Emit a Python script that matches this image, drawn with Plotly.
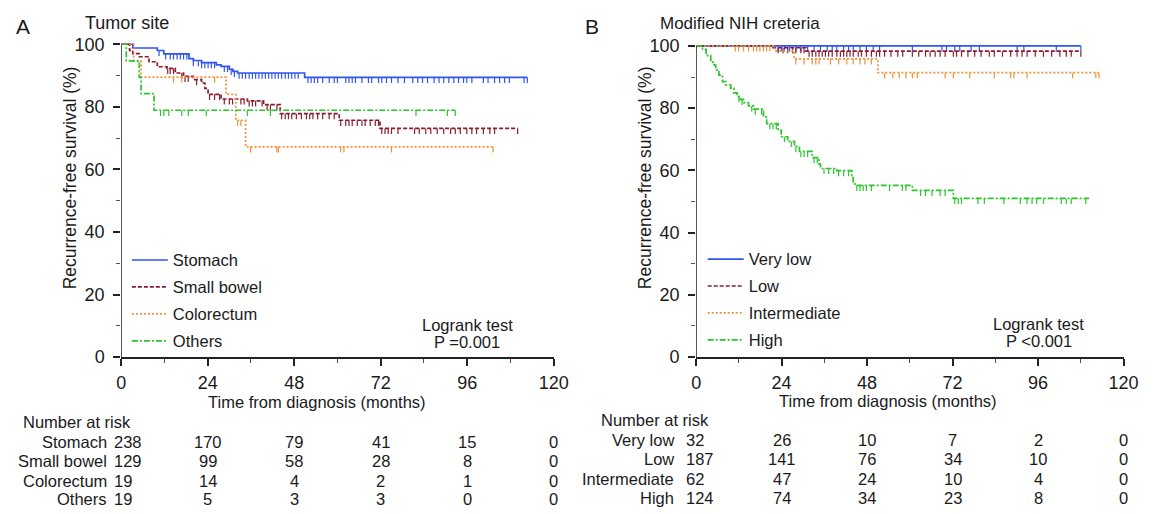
import numpy as np
import plotly.graph_objects as go

# ---------------- Panel A : Tumor site ----------------
A_names = ["Stomach", "Small bowel", "Colorectum", "Others"]
stomach_t = [3.2, 10.0, 11.8, 18.8, 20.0, 22.3, 26.4, 27.7, 30.0, 31.0, 32.3, 50.9]
stomach_s = [98.8, 98.0, 96.9, 95.4, 94.8, 94.1, 93.4, 92.9, 92.0, 91.3, 90.8, 89.4]
stomach_end = 112.7
stomach_cens = [10.5, 12.3, 13.6, 14.5, 15.5, 16.4, 17.3, 18.2, 20.0, 21.4, 22.3, 23.2, 24.1, 25.0,
                25.9, 28.6, 29.5, 30.5, 31.4, 32.7, 33.6, 34.5, 35.5, 36.4, 37.3, 38.2, 39.1, 40.0,
                40.9, 41.8, 42.7, 43.6, 44.5, 45.5, 46.4, 47.3, 48.2, 49.1, 51.8, 52.7, 53.6, 54.5,
                55.9, 57.7, 59.1, 60.0, 62.3, 63.2, 64.1, 65.0, 66.8, 68.6, 69.5, 71.4, 72.3, 73.6,
                75.0, 76.8, 78.6, 80.9, 82.3, 83.6, 85.0, 86.8, 88.2, 89.5, 90.9, 92.3, 93.6, 95.0,
                95.9, 97.3, 100.5, 101.8, 103.6, 105.0, 106.4, 107.7, 111.8, 112.7]

bowel_t = [2.3, 3.2, 5.0, 7.7, 10.0, 12.7, 15.0, 17.3, 20.0, 22.3, 23.2, 24.1, 27.7, 35.0, 39.5, 44.1, 60.5, 71.8]
bowel_s = [98.0, 97.0, 96.0, 94.4, 92.8, 92.3, 90.8, 89.7, 88.7, 87.6, 85.9, 84.0, 82.5, 81.9, 80.7, 77.8, 75.7, 73.1]
bowel_end = 110.0
bowel_cens = [12.9, 13.6, 14.5, 16.8, 17.7, 18.6, 20.9, 24.5, 25.9, 27.3, 28.6, 30.0, 30.9, 33.2,
              34.1, 35.5, 36.4, 37.3, 39.1, 40.5, 41.4, 43.2, 44.5, 45.5, 46.4, 47.3, 48.6, 50.0,
              51.4, 52.3, 53.2, 54.5, 55.9, 57.7, 59.1, 60.9, 62.3, 63.2, 64.1, 65.5, 66.8, 67.7,
              69.1, 70.5, 71.4, 72.3, 73.2, 74.1, 75.0, 76.8, 81.4, 82.7, 84.5, 85.9, 87.7, 89.5,
              91.4, 92.7, 94.1, 95.9, 97.3, 98.6, 100.5, 102.3, 103.6, 110.0]

colo_t = [3.5, 5.5, 29.1, 31.8, 34.5]
colo_s = [94.7, 89.5, 84.0, 75.7, 67.2]
colo_end = 103.2
colo_cens = [14.5, 16.8, 25.9, 32.3, 33.2, 35.9, 43.2, 43.6, 60.9, 61.8, 75.0, 103.2]

others_t = [1.4, 5.0, 5.5, 9.1]
others_s = [94.7, 89.5, 84.2, 78.9]
others_end = 92.7
others_cens = [10.9, 11.8, 13.2, 16.8, 18.6, 23.6, 35.0, 41.4, 81.8, 90.5, 92.7]

A_risk_times = [0, 24, 48, 72, 96, 120]
A_risk = {
    "Stomach": [238, 170, 79, 41, 15, 0],
    "Small bowel": [129, 99, 58, 28, 8, 0],
    "Colorectum": [19, 14, 4, 2, 1, 0],
    "Others": [19, 5, 3, 3, 0, 0],
}

# ---------------- Panel B : Modified NIH criteria ----------------
B_names = ["Very low", "Low", "Intermediate", "High"]
vlow_t, vlow_s = [], []
vlow_end = 108.0
vlow_cens = [23.0, 23.9, 24.8, 26.2, 28.0, 29.4, 31.3, 33.1, 34.9, 36.8, 38.2, 39.5, 41.4, 42.8,
             44.1, 46.0, 47.8, 49.7, 51.5, 60.7, 69.0, 70.3, 72.6, 74.0, 77.2, 79.5, 90.1, 92.0,
             101.1, 108.0]

low_t = [21.6, 30.8]
low_s = [99.4, 98.3]
low_end = 108.0
low_cens = [23.0, 24.4, 25.7, 27.1, 28.0, 29.4, 30.3, 31.7, 32.6, 33.6, 34.5, 35.4, 36.3, 37.2,
            38.2, 39.5, 40.5, 41.4, 42.3, 43.2, 44.1, 45.5, 46.4, 47.8, 49.2, 50.6, 51.5, 52.9,
            54.7, 56.6, 58.0, 60.7, 62.5, 64.4, 65.7, 67.1, 68.5, 69.9, 72.2, 73.1, 74.5, 76.3,
            78.2, 80.0, 82.3, 83.7, 86.0, 88.3, 90.1, 91.5, 92.9, 95.2, 97.5, 99.8, 102.1, 103.9,
            105.3, 108.0]

inter_t = [22.0, 27.5, 51.0]
inter_s = [98.4, 95.8, 91.4]
inter_end = 113.1
inter_cens = [11.0, 11.9, 13.3, 14.7, 16.1, 17.0, 17.9, 18.9, 19.8, 20.7, 28.0, 30.3, 32.6, 33.6,
              34.5, 37.7, 40.0, 42.3, 44.1, 46.0, 47.4, 49.2, 52.9, 55.2, 57.0, 58.9, 60.7, 62.1,
              69.9, 72.2, 76.8, 83.7, 88.3, 89.2, 92.9, 105.7, 112.2, 113.1]

high_t = [1.8, 2.8, 3.2, 4.1, 5.1, 5.5, 6.4, 7.4, 8.3, 9.7, 10.6, 11.5, 12.4, 13.3, 14.7, 16.1,
          18.9, 19.8, 23.0, 23.9, 25.7, 27.6, 29.0, 32.6, 34.5, 34.9, 39.5, 43.7, 44.1, 44.6,
          60.7, 72.2]
high_s = [98.9, 97.7, 96.9, 94.8, 93.8, 92.2, 90.6, 88.5, 87.5, 86.4, 84.9, 83.8, 82.8, 81.8,
          80.7, 79.7, 77.1, 75.0, 72.9, 70.8, 69.3, 67.7, 66.1, 64.1, 62.0, 60.6, 59.9, 58.3,
          56.3, 55.2, 53.6, 51.0]
high_end = 110.3
high_cens = [12.0, 12.9, 15.6, 16.6, 18.4, 20.7, 21.6, 22.5, 24.8, 26.7, 28.0, 29.4, 30.3, 31.3,
             33.1, 34.0, 35.9, 37.2, 38.6, 40.0, 41.4, 42.8, 45.1, 46.0, 46.9, 47.8, 49.2, 54.3,
             57.9, 58.9, 63.0, 64.4, 66.2, 68.5, 69.9, 72.6, 73.6, 74.5, 79.1, 80.9, 86.4, 91.0,
             92.9, 94.3, 95.6, 97.5, 102.5, 103.9, 105.3, 109.4]

B_risk_times = [0, 24, 48, 72, 96, 120]
B_risk = {
    "Very low": [32, 26, 10, 7, 2, 0],
    "Low": [187, 141, 76, 34, 10, 0],
    "Intermediate": [62, 47, 24, 10, 4, 0],
    "High": [124, 74, 34, 23, 8, 0],
}

# ---------------- styling ----------------
FONT = "Liberation Sans, Arial, sans-serif"
TXT = "#1a1a1a"
colors = ["#2f55f0", "#8a1c30", "#f0913a", "#2ec42e"]
dashes = ["solid", "4px,2px", "2px,2px", "6px,2px,2px,2px"]
TICK_DROP = 1.8

W, H = 1156, 514
fig = go.Figure()


def add_curve(t, s, end, cens, name, i, xa, ya, legend):
    xs = [0] + list(t) + [end]
    ys = [100] + list(s) + [s[-1] if s else 100]
    fig.add_trace(go.Scatter(
        x=xs, y=ys, mode="lines", line=dict(shape="hv", color=colors[i], width=1.7, dash=dashes[i]),
        name=name, xaxis=xa, yaxis=ya, legend=legend, legendgroup=legend + name, hoverinfo="skip"))
    tt = np.array(t, dtype=float)
    cx, cy = [], []
    for c in cens:
        k = np.searchsorted(tt, c, side="right")
        sv = 100.0 if k == 0 else s[k - 1]
        cx += [c, c, None]
        cy += [sv, sv - TICK_DROP, None]
    fig.add_trace(go.Scatter(
        x=cx, y=cy, mode="lines", line=dict(color=colors[i], width=1.2), showlegend=False,
        xaxis=xa, yaxis=ya, legend=legend, legendgroup=legend + name, hoverinfo="skip"))


A_data = [(stomach_t, stomach_s, stomach_end, stomach_cens),
          (bowel_t, bowel_s, bowel_end, bowel_cens),
          (colo_t, colo_s, colo_end, colo_cens),
          (others_t, others_s, others_end, others_cens)]
B_data = [(vlow_t, vlow_s, vlow_end, vlow_cens),
          (low_t, low_s, low_end, low_cens),
          (inter_t, inter_s, inter_end, inter_cens),
          (high_t, high_s, high_end, high_cens)]

for i, (nm, d) in enumerate(zip(A_names, A_data)):
    add_curve(*d, nm, i, "x", "y", "legend")
for i, (nm, d) in enumerate(zip(B_names, B_data)):
    add_curve(*d, nm, i, "x2", "y2", "legend2")


def px_x(px):
    return px / W


def px_y(py):
    return (H - py) / H


# axis geometry (pixels)
A_x0, A_x1, A_y0, A_y100 = 118.3, 558.3, 363.3, 42.3
B_x0, B_x1, B_y0, B_y100 = 703.3, 1138.3, 363.3, 44.0
YTOP = 102


def ydom(y0, y100):
    per = (y0 - y100) / 100
    return [px_y(y0), px_y(y100 - per * (YTOP - 100))]


xaxis_common = dict(range=[0, 120], tickvals=[0, 24, 48, 72, 96, 120], ticks="outside", ticklen=7,
                    tickwidth=1.5, tickcolor="#222", showline=True, linecolor="#222", linewidth=1.5,
                    showgrid=False, zeroline=False, ticklabelstandoff=2,
                    tickfont=dict(family=FONT, size=18, color=TXT),
                    minor=dict(tickvals=[12, 36, 60, 84, 108], ticks="outside", ticklen=4,
                               tickwidth=1.3, tickcolor="#a0303c"))
yaxis_common = dict(range=[0, YTOP], tickvals=[0, 20, 40, 60, 80, 100], ticks="outside", ticklen=7,
                    tickwidth=1.5, tickcolor="#222", showline=False, showgrid=False, zeroline=False,
                    ticklabelstandoff=5,
                    tickfont=dict(family=FONT, size=18, color=TXT),
                    minor=dict(tickvals=[10, 30, 50, 70, 90], ticks="outside", ticklen=4,
                               tickwidth=1.3, tickcolor="#a0303c"))

LEG_FONT = dict(family=FONT, size=16.5, color=TXT)
fig.update_layout(
    width=W, height=H, margin=dict(l=0, r=0, t=0, b=0),
    paper_bgcolor="white", plot_bgcolor="white",
    font=dict(family=FONT, size=16, color=TXT),
    xaxis=dict(domain=[px_x(A_x0), px_x(A_x1)], anchor="y", **xaxis_common),
    yaxis=dict(domain=ydom(A_y0, A_y100), anchor="x", **yaxis_common),
    xaxis2=dict(domain=[px_x(B_x0), px_x(B_x1)], anchor="y2", **xaxis_common),
    yaxis2=dict(domain=ydom(B_y0, B_y100), anchor="x2", **yaxis_common),
    legend=dict(x=px_x(124), y=px_y(246), xanchor="left", yanchor="top", bgcolor="rgba(0,0,0,0)",
                font=LEG_FONT, tracegroupgap=2.5, itemwidth=36, traceorder="grouped"),
    legend2=dict(x=px_x(710), y=px_y(245), xanchor="left", yanchor="top", bgcolor="rgba(0,0,0,0)",
                 font=LEG_FONT, tracegroupgap=2.5, itemwidth=36, traceorder="grouped"),
    showlegend=True,
)

# y-axis lines ending at 100
for xr, yr in [("x", "y"), ("x2", "y2")]:
    fig.add_shape(type="line", xref=xr, yref=yr, x0=0, x1=0, y0=0, y1=100,
                  line=dict(color="#222", width=1.5))

ann = []


def text(x, y, s, size=16, xanchor="center", xref="paper", angle=0, yanchor="middle"):
    ann.append(dict(x=x, y=y, xref=xref, yref="paper", text=s, showarrow=False, xanchor=xanchor,
                    yanchor=yanchor, textangle=angle, font=dict(family=FONT, size=size, color=TXT)))


# panel letters and titles
text(px_x(9), px_y(24), "A", size=21, xanchor="left")
text(px_x(79), px_y(21), "Tumor site", size=18, xanchor="left")
text(px_x(588), px_y(24), "B", size=21, xanchor="left")
text(px_x(664), px_y(21), "Modified NIH creteria", size=17, xanchor="left")

# axis titles
text(px_x(67), px_y(179), "Recurrence-free survival (%)", size=17.5, angle=-90)
text(px_x(652), px_y(179), "Recurrence-free survival (%)", size=17.5, angle=-90)
text(px_x(317), px_y(409), "Time from diagnosis (months)", size=16.5)
text(px_x(899), px_y(408), "Time from diagnosis (months)", size=16.5)

# logrank
text(96, px_y(330), "Logrank test", size=16.5, xref="x")
text(96, px_y(348), "P =0.001", size=16.5, xref="x")
text(96.2, px_y(329), "Logrank test", size=16.5, xref="x2")
text(96.2, px_y(347), "P <0.001", size=16.5, xref="x2")

# number at risk tables
TS = 16.5
text(px_x(16), px_y(430), "Number at risk", size=TS, xanchor="left")
rowsA = [450, 470, 490, 509]
for r, nm in zip(rowsA, A_names):
    text(px_x(106), px_y(r), nm, size=TS, xanchor="right")
    for j, (tm, v) in enumerate(zip(A_risk_times, A_risk[nm])):
        if j == 0:
            text(px_x(109), px_y(r), str(v), size=TS, xanchor="left")
        else:
            text(tm, px_y(r), str(v), size=TS, xref="x")

text(px_x(604), px_y(428), "Number at risk", size=TS, xanchor="left")
rowsB = [448, 468, 488, 508]
for r, nm in zip(rowsB, B_names):
    text(px_x(683), px_y(r), nm, size=TS, xanchor="right")
    for j, (tm, v) in enumerate(zip(B_risk_times, B_risk[nm])):
        if j == 0:
            text(px_x(691), px_y(r), str(v), size=TS, xanchor="left")
        else:
            text(tm, px_y(r), str(v), size=TS, xref="x2")

fig.update_layout(annotations=ann)
fig.write_html("out.html")
